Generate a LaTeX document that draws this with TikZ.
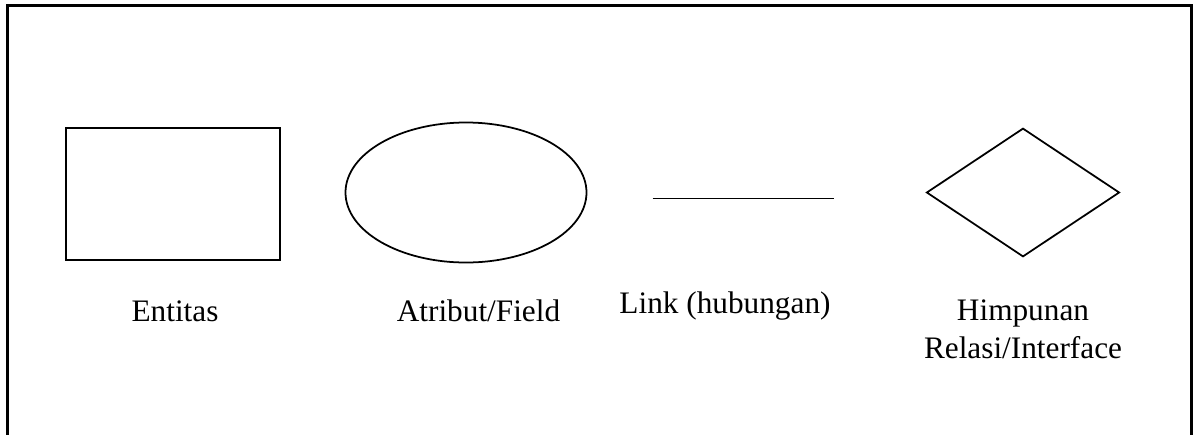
\documentclass[tikz,border=0pt]{standalone}
\usepackage{fontspec}
\setmainfont{Liberation Serif}
\usetikzlibrary{shapes.geometric, calc}
\tikzset{
    entbox/.style = {draw, rectangle, line width=1pt, minimum width=4.28cm, minimum height=2.64cm, inner sep=0pt},
    attrbox/.style = {draw, ellipse, line width=1pt, minimum width=4.82cm, minimum height=2.8cm, inner sep=0pt},
    relbox/.style = {draw, diamond, line width=1pt, minimum width=3.86cm, minimum height=2.57cm, inner sep=0pt},
    lbl/.style = {anchor=base, align=center, inner sep=0pt, font=\fontsize{17.8}{21.6}\selectfont},
}
\begin{document}
\begin{tikzpicture}[line width=1pt]
\useasboundingbox (0,0) rectangle (23.86,-8.68);
\draw[line width=1.4pt] (0.15,-8.8) -- (0.15,-0.11) -- (23.83,-0.11) -- (23.83,-8.8);

\node[entbox] (ent) at (3.46,-3.88) {};
\node[lbl] (entl) at (3.5,-6.42) {Entitas};

\node[attrbox] (attr) at (9.32,-3.85) {};
\node[lbl] (attrl) at (9.57,-6.42) {Atribut/Field};

\coordinate (linka) at (13.05,-3.97);
\coordinate (linkb) at (16.67,-3.97);
\draw (linka) -- (linkb);
\node[lbl] (linkl) at (14.5,-6.26) {Link (hubungan)};

\node[relbox] (rel) at (20.46,-3.85) {};
\node[lbl] (rell) at (20.46,-7.16) {Himpunan\\Relasi/Interface};
\end{tikzpicture}
\end{document}
